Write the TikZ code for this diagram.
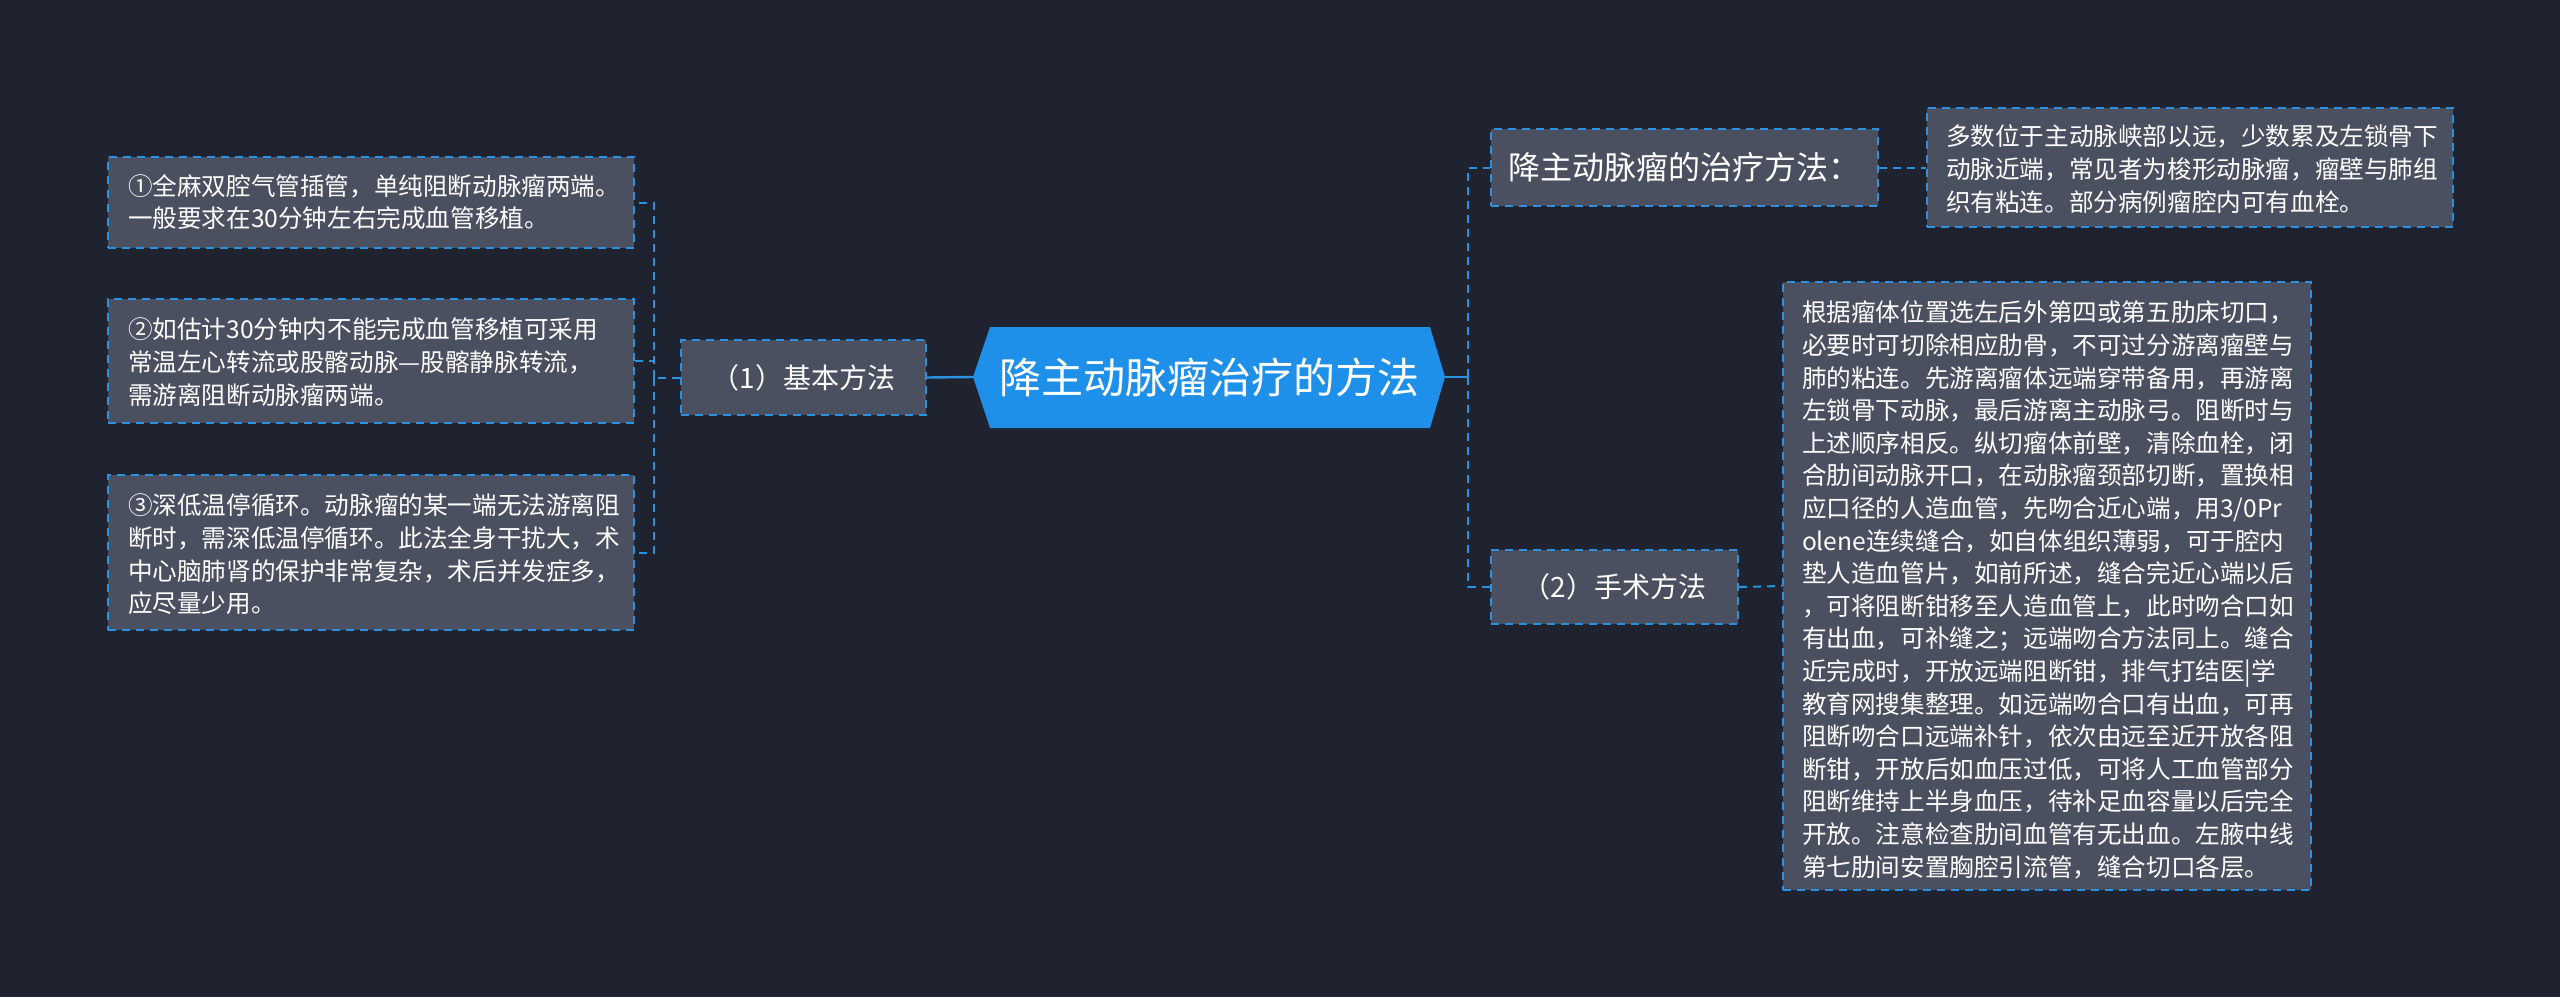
\documentclass[tikz,border=0pt]{standalone}
\usepackage{fontspec}
\setmainfont{Noto Sans CJK SC}
\begin{document}
\begin{tikzpicture}[x=0.5pt,y=-0.5pt,
  box/.style={draw=lineblue,fill=boxgray,dashed,line width=1pt,dash pattern=on 4pt off 3pt,text=white,inner sep=0pt},
  small/.style={font=\fontsize{12.3pt}{16.3pt}\selectfont,align=left,anchor=north west},
  conn/.style={draw=lineblue,line width=1pt,dash pattern=on 4pt off 3pt}]
\definecolor{bg}{HTML}{1F2330}
\definecolor{boxgray}{HTML}{4A5060}
\definecolor{lineblue}{HTML}{2A92E0}
\definecolor{cblue}{HTML}{1E90EA}
\fill[bg] (0,0) rectangle (2560,997);
\useasboundingbox (0,0) rectangle (2560,997);
% center
\fill[cblue] (973,377)--(990,327)--(1430,327)--(1445,377)--(1430,428)--(990,428)--cycle;
\node[text=white,font=\fontsize{21pt}{24pt}\selectfont] (c) at (1209,377) {降主动脉瘤治疗的方法};
\coordinate (cw) at (973,377); \coordinate (ce) at (1445,377);
% left
\node[box,minimum width=122.5pt,minimum height=37.5pt,font=\fontsize{14pt}{16pt}\selectfont] (L) at (803.5,377.5) {（1）基本方法};
\node[box,minimum width=263pt,minimum height=45.5pt] (b1) at (371,202.5) {};
\node[small,text=white] at (121,167) {①全麻双腔气管插管，单纯阻断动脉瘤两端。\\一般要求在30分钟左右完成血管移植。};
\node[box,minimum width=263pt,minimum height=62pt] (b2) at (371,361) {};
\node[small,text=white] at (121,311) {②如估计30分钟内不能完成血管移植可采用\\常温左心转流或股髂动脉—股髂静脉转流，\\需游离阻断动脉瘤两端。};
\node[box,minimum width=263pt,minimum height=77.5pt] (b3) at (371,552.5) {};
\node[small,text=white] at (121,487) {③深低温停循环。动脉瘤的某一端无法游离阻\\断时，需深低温停循环。此法全身干扰大，术\\中心脑肺肾的保护非常复杂，术后并发症多，\\应尽量少用。};
% right
\node[box,minimum width=193.5pt,minimum height=38.5pt,font=\fontsize{16pt}{18pt}\selectfont] (r1) at (1684.5,167.5) {降主动脉瘤的治疗方法：};
\node[box,minimum width=263pt,minimum height=59.5pt] (rt1) at (2190,167.5) {};
\node[small,text=white] at (1939,118) {多数位于主动脉峡部以远，少数累及左锁骨下\\动脉近端，常见者为梭形动脉瘤，瘤壁与肺组\\织有粘连。部分病例瘤腔内可有血栓。};
\node[box,minimum width=123.5pt,minimum height=37pt,font=\fontsize{14pt}{16pt}\selectfont] (r2) at (1614.5,587) {（2）手术方法};
\node[box,minimum width=264pt,minimum height=304pt] (rt2) at (2047,586) {};
\node[small,text=white] at (1795,294) {根据瘤体位置选左后外第四或第五肋床切口，\\必要时可切除相应肋骨，不可过分游离瘤壁与\\肺的粘连。先游离瘤体远端穿带备用，再游离\\左锁骨下动脉，最后游离主动脉弓。阻断时与\\上述顺序相反。纵切瘤体前壁，清除血栓，闭\\合肋间动脉开口，在动脉瘤颈部切断，置换相\\应口径的人造血管，先吻合近心端，用3/0Pr\\olene连续缝合，如自体组织薄弱，可于腔内\\垫人造血管片，如前所述，缝合完近心端以后\\，可将阻断钳移至人造血管上，此时吻合口如\\有出血，可补缝之；远端吻合方法同上。缝合\\近完成时，开放远端阻断钳，排气打结医|学\\教育网搜集整理。如远端吻合口有出血，可再\\阻断吻合口远端补针，依次由远至近开放各阻\\断钳，开放后如血压过低，可将人工血管部分\\阻断维持上半身血压，待补足血容量以后完全\\开放。注意检查肋间血管有无出血。左腋中线\\第七肋间安置胸腔引流管，缝合切口各层。};
% connectors
\draw[draw=lineblue,line width=1.2pt] (cw) -- (L.east);
\draw[conn] (L.west) -- ++(-26,0) coordinate (lj);
\draw[conn] (lj) |- (b1.east);
\draw[conn] (lj) |- (b2.east);
\draw[conn] (lj) |- (b3.east);
\draw[draw=lineblue,line width=1.2pt] (ce) -- ++(23,0) coordinate (rj);
\draw[conn] (rj) |- (r1.west);
\draw[conn] (rj) |- (r2.west);
\draw[conn] (r1.east) -- (rt1.west);
\draw[conn] (r2.east) -- (rt2.west);
\end{tikzpicture}
\end{document}
